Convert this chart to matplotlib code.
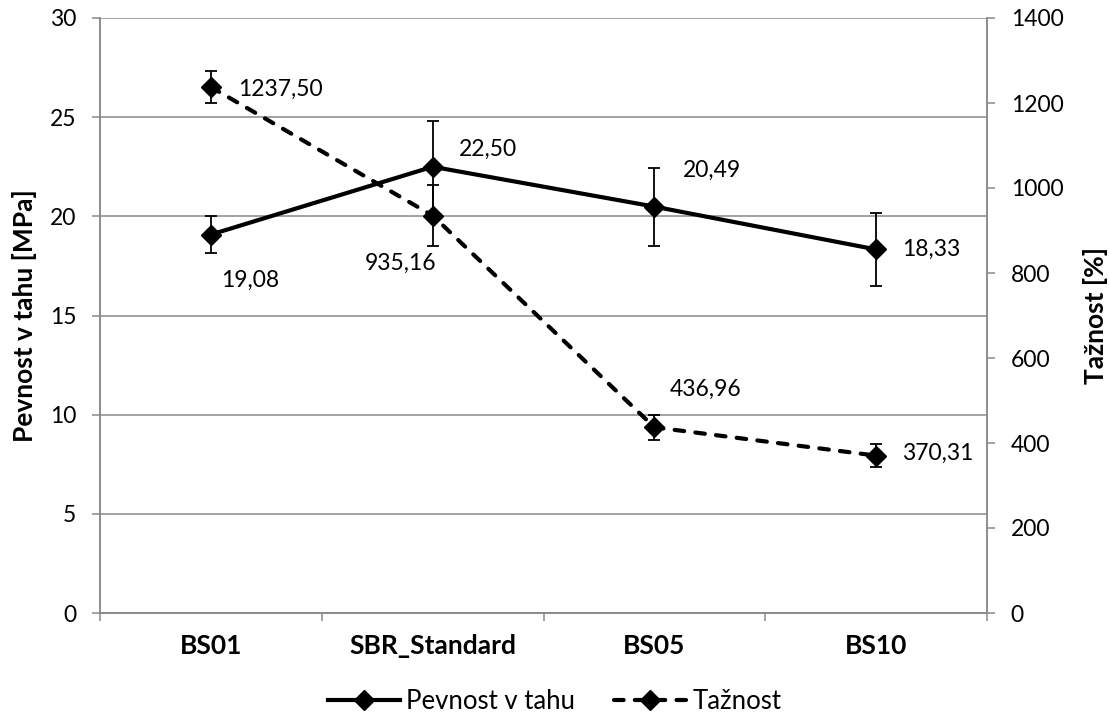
import numpy as np
import matplotlib.pyplot as plt
from matplotlib.lines import Line2D

plt.rcParams['font.family'] = ['Lato', 'DejaVu Sans']

# vzorky a namerene hodnoty
vzorky = ['BS01', 'SBR_Standard', 'BS05', 'BS10']
pevnost = [19.08, 22.50, 20.49, 18.33]        # MPa
pevnost_err = [0.95, 2.3, 1.97, 1.85]
taznost = [1237.50, 935.16, 436.96, 370.31]   # %
taznost_err = [38, 72, 30, 27]

# posun popisku hodnot v pixelech (dx, dy, zarovnani)
pevnost_lbl = [(10, -46, 'left'), (26, 17, 'left'), (28, 36, 'left'), (26, 0, 'left')]
taznost_lbl = [(27, -2, 'left'), (4, -48, 'right'), (15, 38, 'left'), (26, 2, 'left')]

GRAY = '#898989'
FS = 16.5       # cisla
FS_TXT = 18.5   # legenda
FS_BOLD = 19    # nazvy os a vzorku


def fmt(v):
    return f"{v:.2f}".replace('.', ',')


def style_axis(a):
    a.spines['top'].set_visible(False)
    for s in ['left', 'right', 'bottom']:
        a.spines[s].set_color(GRAY)
        a.spines[s].set_linewidth(1.1)


fig = plt.figure(figsize=(11.09, 7.16), dpi=100)
ax = fig.add_axes([100 / 1109, 1 - 613 / 716, 887 / 1109, 595 / 716])
ax2 = ax.twinx()

x = np.arange(len(vzorky))

# pevnost v tahu - leva osa
ax.errorbar(x, pevnost, yerr=pevnost_err, fmt='none', ecolor='black',
            elinewidth=1.3, capsize=4.2, capthick=1.3, zorder=3)
ax.plot(x, pevnost, color='black', lw=3, marker='D', markersize=10, zorder=4)
for xi, v, (dx, dy, ha) in zip(x, pevnost, pevnost_lbl):
    ax.annotate(fmt(v), (xi, v), xytext=(dx, dy), textcoords='offset pixels',
                ha=ha, va='center', fontsize=FS)

# taznost - prava osa
ax2.errorbar(x, taznost, yerr=taznost_err, fmt='none', ecolor='black',
             elinewidth=1.3, capsize=4.2, capthick=1.3, zorder=3)
ln2, = ax2.plot(x, taznost, color='black', lw=3, marker='D', markersize=10,
                zorder=4, dash_capstyle='round')
ln2.set_dashes((2.3, 2.7))
for xi, v, (dx, dy, ha) in zip(x, taznost, taznost_lbl):
    ax2.annotate(fmt(v), (xi, v), xytext=(dx, dy), textcoords='offset pixels',
                 ha=ha, va='center', fontsize=FS)

ax.set_xlim(-0.5, len(vzorky) - 0.5)
ax.set_ylim(0, 30)
ax.set_yticks(np.arange(0, 31, 5))
ax2.set_ylim(0, 1400)
ax2.set_yticks(np.arange(0, 1401, 200))

ax.yaxis.grid(True, color=GRAY, lw=1.1)
ax.set_axisbelow(True)

ax.set_xticks(x)
ax.set_xticklabels(vzorky, fontweight='bold', fontsize=FS_BOLD)
ax.set_xticks(np.arange(-0.5, len(vzorky), 1), minor=True)
ax.tick_params(axis='x', which='major', length=0, pad=15)
ax.tick_params(axis='x', which='minor', length=6, color=GRAY, width=1.1)
ax.tick_params(axis='y', length=6, color=GRAY, width=1.1, labelsize=FS, pad=11)
ax2.tick_params(axis='y', length=6, color=GRAY, width=1.1, labelsize=FS, pad=11)

style_axis(ax)
style_axis(ax2)

ax.set_ylabel('Pevnost v tahu [MPa]', fontweight='bold', fontsize=FS_BOLD)
ax.yaxis.set_label_coords(-0.071, 0.5)
ax2.set_ylabel('Tažnost [%]', fontweight='bold', fontsize=FS_BOLD)
ax2.yaxis.set_label_coords(1.108, 0.5)

handles = [
    Line2D([], [], color='black', lw=3, marker='D', markersize=10),
    Line2D([], [], color='black', lw=3, marker='D', markersize=10,
           dashes=(2.3, 2.7), dash_capstyle='round'),
]
fig.legend(handles, ['Pevnost v tahu', 'Tažnost'], loc='center',
           bbox_to_anchor=(0.5, 0.02), ncol=2, frameon=False, fontsize=FS_TXT,
           handlelength=2.8, handletextpad=0.25, columnspacing=1.5)

fig.savefig('out.png', dpi=100)
